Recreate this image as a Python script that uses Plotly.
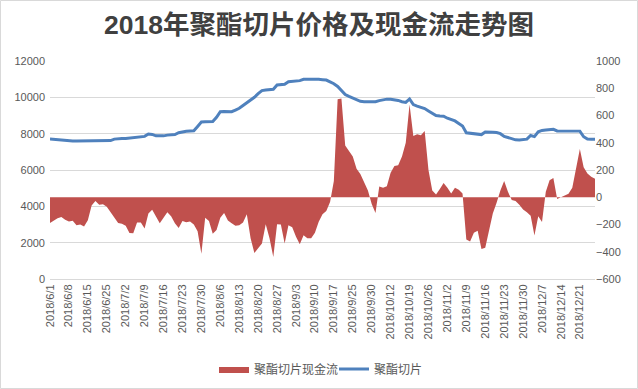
import plotly.graph_objects as go

# ---------------- data ----------------
tick_labels = ["2018/6/1", "2018/6/8", "2018/6/15", "2018/6/25", "2018/7/2", "2018/7/9",
               "2018/7/16", "2018/7/23", "2018/7/30", "2018/8/6", "2018/8/13", "2018/8/20",
               "2018/8/27", "2018/9/3", "2018/9/10", "2018/9/17", "2018/9/25", "2018/9/30",
               "2018/10/12", "2018/10/19", "2018/10/26", "2018/11/2", "2018/11/9",
               "2018/11/16", "2018/11/23", "2018/11/30", "2018/12/7", "2018/12/14",
               "2018/12/21"]
tick_index = [5 * k for k in range(len(tick_labels))]

price = [7700, 7680, 7650, 7630, 7620, 7610, 7600, 7600, 7600, 7600,
         7600, 7600, 7600, 7600, 7600, 7580, 7620, 7700, 7730, 7740,
         7740, 7760, 7790, 7800, 7800, 7850, 7980, 7960, 7880, 7870,
         7880, 7920, 7930, 7950, 8050, 8110, 8130, 8150, 8160, 8400,
         8640, 8650, 8650, 8670, 8900, 9210, 9220, 9200, 9210, 9300,
         9395, 9550, 9700, 9800, 10000, 10200, 10370, 10400, 10420, 10440,
         10680, 10700, 10720, 10860, 10880, 10900, 10920, 10990, 11000, 11000,
         11000, 10990, 10970, 10950, 10850, 10750, 10600, 10400, 10150, 10050,
         9950, 9870, 9780, 9760, 9760, 9750, 9760, 9820, 9880, 9900,
         9890, 9880, 9830, 9760, 9720, 9910, 9600, 9520, 9460, 9380,
         9250, 9100, 9000, 8970, 8960, 8850, 8760, 8700, 8560, 8420,
         8050, 8020, 7990, 7960, 7950, 8090, 8100, 8080, 8060, 8000,
         7850, 7780, 7720, 7660, 7650, 7660, 7700, 7900, 7840, 8100,
         8180, 8200, 8230, 8240, 8150, 8150, 8150, 8150, 8150, 8150,
         8140, 7830, 7700, 7690, 7690]

cashflow = [-189, -172, -155, -145, -165, -178, -172, -205, -200, -215,
            -169, -60, -28, -55, -52, -70, -110, -150, -189, -195,
            -210, -262, -265, -185, -185, -230, -120, -92, -140, -190,
            -150, -110, -140, -190, -225, -175, -183, -178, -200, -250,
            -414, -150, -175, -267, -240, -150, -115, -170, -190, -210,
            -205, -185, -125, -300, -409, -377, -340, -198, -300, -438,
            -198, -200, -340, -206, -220, -290, -345, -279, -300, -300,
            -260, -180, -125, -100, -34, 120, 720, 724, 380, 340,
            300, 210, 170, 110, 50, -50, -115, 78, 70, 80,
            180, 230, 235, 300, 400, 680, 450, 462, 455, 487,
            200, 50, 20, 60, 105, 70, 28, 70, 55, 27,
            -311, -325, -260, -245, -380, -370, -250, -120, -40, 50,
            120, 40, -20, -28, -55, -90, -110, -135, -280, -140,
            -181, 40, 125, 142, -12, 0, 15, 25, 70, 200,
            355, 220, 175, 150, 135]

idx = list(range(len(price)))

# ---------------- layout geometry ----------------
W, H = 638, 389
ML, MR, MT, MB = 50, 43, 61, 110
PW, PH = W - ML - MR, H - MT - MB

RED = "#c0504d"
BLUE = "#4f81bd"
GRID = "#d9d9d9"
TXT = "#595959"
FONT = "Liberation Sans, Noto Sans CJK SC, sans-serif"

fig = go.Figure()
fig.add_trace(go.Scatter(
    x=idx, y=cashflow, name="聚酯切片现金流", yaxis="y2",
    mode="lines", line=dict(width=0, color=RED),
    fill="tozeroy", fillcolor=RED, hoverinfo="skip"))
fig.add_trace(go.Scatter(
    x=idx, y=price, name="聚酯切片", yaxis="y",
    mode="lines", line=dict(width=3, color=BLUE)))

fig.update_layout(
    width=W, height=H,
    margin=dict(l=ML, r=MR, t=MT, b=MB, autoexpand=False),
    paper_bgcolor="white", plot_bgcolor="white",
    font=dict(family=FONT, size=11, color=TXT),
    title=dict(text="<b>2018年聚酯切片价格及现金流走势图</b>",
               font=dict(family="Liberation Sans, Noto Sans CJK SC", size=26.5, color="#404040"),
               x=319 / W, xanchor="center", xref="container",
               y=1 - 25 / H, yanchor="middle", yref="container"),
    xaxis=dict(range=[0, len(idx) - 1], tickmode="array", tickvals=tick_index,
               ticktext=tick_labels, tickangle=-90, showgrid=False, zeroline=False,
               showline=True, linecolor=GRID, linewidth=1, ticks="",
               automargin=False, tickfont=dict(size=11, color=TXT)),
    yaxis=dict(range=[0, 12000], dtick=2000, tickformat="d", showgrid=True,
               gridcolor=GRID, gridwidth=1, zeroline=False, showline=False,
               ticks="", automargin=False,
               tickfont=dict(size=11, color=TXT), ticklabelstandoff=4),
    yaxis2=dict(range=[-600, 1000], dtick=200, tickformat="d", overlaying="y",
                side="right", showgrid=False, zeroline=False, showline=False,
                ticks="", automargin=False, tickfont=dict(size=11, color=TXT)),
    legend=dict(orientation="h", x=(334 - ML) / PW, xanchor="center",
                y=-(369 - (MT + PH)) / PH, yanchor="middle",
                font=dict(family="Noto Sans CJK SC, sans-serif", size=12, color=TXT),
                itemwidth=30, entrywidth=75, entrywidthmode="pixels",
                bgcolor="rgba(0,0,0,0)"),
    showlegend=True,
    shapes=[dict(type="rect", xref="paper", yref="paper",
                 x0=(0.5 - ML) / PW, x1=(W - 0.5 - ML) / PW,
                 y0=((MT + PH) - (H - 0.5)) / PH, y1=((MT + PH) - 0.5) / PH,
                 line=dict(color=GRID, width=1), layer="above")],
)

fig.write_html("out.html", config={"displayModeBar": False},
               post_script="document.body.style.margin='0';")
